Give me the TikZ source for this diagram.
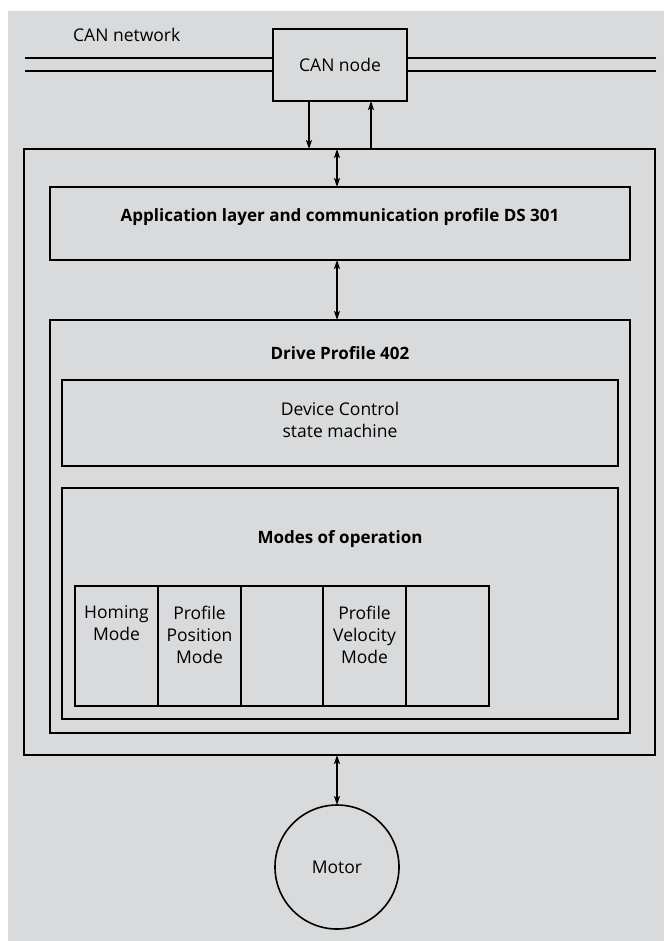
\documentclass[tikz,border=0pt]{standalone}
\usepackage{fontspec}
\setmainfont{Open Sans}
\usetikzlibrary{arrows.meta}
\definecolor{bggray}{RGB}{217,218,220}
\definecolor{ink}{RGB}{0,0,0}
\begin{document}
\begin{tikzpicture}[x=1pt,y=-1pt,
  box/.style={draw=black,line width=1.6pt,inner sep=0pt,outer sep=0pt,rectangle},
  modebox/.style={box,minimum width=83pt,minimum height=120pt},
  txt/.style={text=ink,font=\fontsize{17.5}{22}\selectfont,inner sep=0pt},
  btxt/.style={txt,font=\fontsize{17}{22}\selectfont\bfseries},
  conn/.style={line width=1.5pt,-{Stealth[length=9pt,width=6pt,inset=2pt]}},
  dconn/.style={line width=1.5pt,{Stealth[length=9pt,width=6pt,inset=2pt]}-{Stealth[length=9pt,width=6pt,inset=2pt]}},
  net/.style={line width=2pt}]
\useasboundingbox (0,0) rectangle (664,941);
\fill[bggray] (8,11) rectangle (664,941);

% boxes
\node[box,minimum width=134pt,minimum height=72pt] (can) at (340,65) {};
\node[txt] (cantxt) at (340,65) {CAN node};
\node[box,line width=1.4pt,minimum width=631pt,minimum height=606pt] (outer) at (339.5,452) {};
\node[box,minimum width=580pt,minimum height=73pt] (app) at (340,223.5) {};
\node[btxt,anchor=base] (apptxt) at (340,222) {Application layer and communication profile DS 301};
\node[box,minimum width=580pt,minimum height=413pt] (drive) at (340,526.5) {};
\node[btxt,anchor=base] (drivetxt) at (340,359) {Drive Profile 402};
\node[box,minimum width=556pt,minimum height=86pt] (device) at (340,423) {};
\node[txt,align=center] (devtxt) at (340,420) {Device Control\\state machine};
\node[box,minimum width=556pt,minimum height=231pt] (modes) at (340,603.5) {};
\node[btxt,anchor=base] (modestxt) at (340,543) {Modes of operation};

\node[modebox] (m1) at (116.5,646) {};
\node[modebox] (m2) at (199.5,646) {};
\node[modebox] (m3) at (282,646) {};
\node[modebox] (m4) at (364.5,646) {};
\node[modebox] (m5) at (447.5,646) {};
\node[txt,align=center,anchor=north] (m1t) at (m1.center |- 0,605.5) {Homing\\Mode};
\node[txt,align=center,anchor=north] (m2t) at (m2.center |- 0,605.5) {Profile\\Position\\Mode};
\node[txt,align=center,anchor=north] (m4t) at (m4.center |- 0,605.5) {Profile\\Velocity\\Mode};

\node[draw=black,line width=1.6pt,circle,minimum size=124pt,inner sep=0pt,outer sep=0pt] (motor) at (337,867) {};
\node[txt] (motortxt) at (337,867) {Motor};

% network
\node[txt,anchor=base west] (nettxt) at (73,42) {CAN network};
\coordinate (nl1) at (25,58);
\coordinate (nl2) at (25,71);
\coordinate (nr1) at (656,58);
\coordinate (nr2) at (656,71);
\draw[net] (nl1) -- (nl1 -| can.west);
\draw[net] (nl2) -- (nl2 -| can.west);
\draw[net] (nr1) -- (nr1 -| can.east);
\draw[net] (nr2) -- (nr2 -| can.east);

% connectors
\coordinate (tdown) at (309,0);
\coordinate (tup) at (371,0);
\coordinate (tmid) at (337,0);
\draw[conn] (tdown |- can.south) -- (tdown |- outer.north);
\draw[conn] (tup |- outer.north) -- (tup |- can.south);
\draw[dconn] (tmid |- outer.north) -- (tmid |- app.north);
\draw[dconn] (tmid |- app.south) -- (tmid |- drive.north);
\draw[dconn] (tmid |- outer.south) -- (motor.north);
\end{tikzpicture}
\end{document}
